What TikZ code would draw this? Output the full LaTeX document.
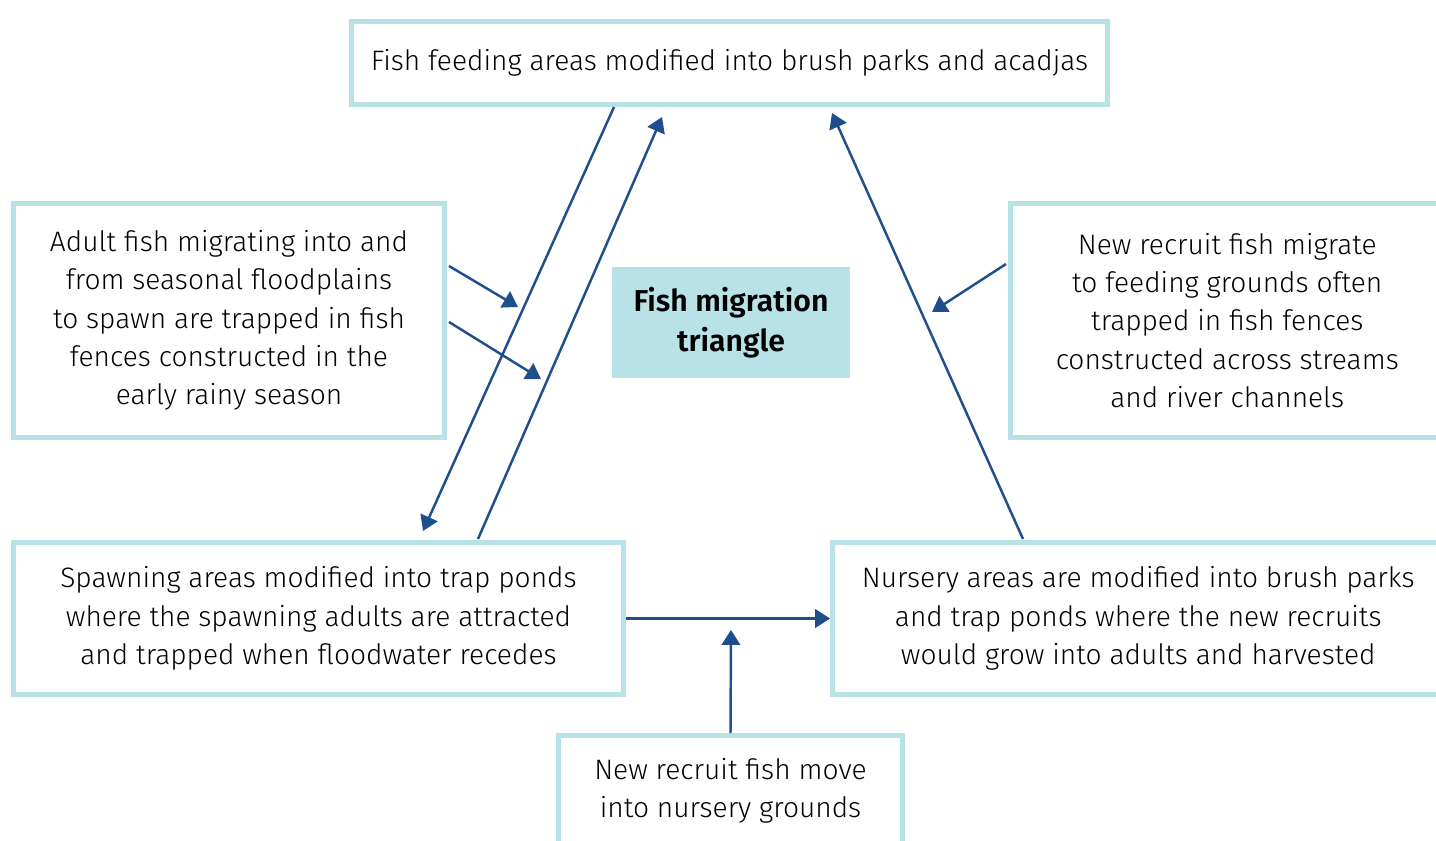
\documentclass[tikz,border=0pt]{standalone}
\usepackage{fontspec}
\setmainfont{Fira Sans Light}[BoldFont=Fira Sans SemiBold]
\usetikzlibrary{arrows.meta}
\definecolor{boxcyan}{HTML}{B9E2E6}
\definecolor{arrowblue}{HTML}{1F4E8C}
\tikzset{
  box/.style={draw=boxcyan, line width=2.8pt, inner sep=0pt, align=center,
    font=\fontsize{16}{21.8}\selectfont},
  arr/.style={draw=arrowblue, line width=1.4pt, -{Triangle[length=8.5pt,width=10.5pt]}},
}
\begin{document}
\begin{tikzpicture}[x=0.02cm, y=-0.02cm]
    \useasboundingbox (0,0) rectangle (1436,841);
    % boxes
    \node[box, minimum width=15.12cm, minimum height=1.66cm] (feeding) at (729.5,63)
      {Fish feeding areas modified into brush parks and acadjas};
    \node[box, minimum width=8.62cm, minimum height=4.68cm] (adults) at (229,320.5)
      {Adult fish migrating into and\\ from seasonal floodplains\\ to spawn are trapped in fish\\
       fences constructed in the\\ early rainy season};
    \node[box, minimum width=8.67cm, minimum height=4.68cm] (newfeed) at (1227.25,320.5)
      {New recruit fish migrate\\ to feeding grounds often\\ trapped in fish fences\\
       constructed across streams\\ and river channels};
    \node[fill=boxcyan, inner sep=0pt, align=center, minimum width=4.76cm, minimum height=2.22cm,
      font=\fontsize{17.2}{22.5}\selectfont\bfseries] (triangle) at (731,322.5)
      {Fish migration\\ triangle};
    \node[box, minimum width=12.2cm, minimum height=3.04cm] (spawn) at (318.5,618.5)
      {Spawning areas modified into trap ponds\\ where the spawning adults are attracted\\
       and trapped when floodwater recedes};
    \node[box, minimum width=12.23cm, minimum height=3.04cm] (nursery) at (1138.25,618.5)
      {Nursery areas are modified into brush parks\\ and trap ponds where the new recruits\\
       would grow into adults and harvested};
    \node[box, minimum width=6.88cm, minimum height=2.22cm] (newnursery) at (730.5,791)
      {New recruit fish move\\ into nursery grounds};
    % free ends
    \coordinate (f1) at (614,107);
    \coordinate (s1) at (423,531);
    \coordinate (s2) at (478,539);
    \coordinate (f2) at (662,117);
    \coordinate (n1) at (1023,539);
    \coordinate (f3) at (832,113);
    \coordinate (a1) at (449,266);
    \coordinate (a1e) at (518,307);
    \coordinate (a2) at (449,322);
    \coordinate (a2e) at (541,379);
    \coordinate (r1) at (1006,264);
    \coordinate (r1e) at (932,312);
    \coordinate (n2) at (731,630);
    % triangle sides
    \draw[arr] (f1) -- (s1);
    \draw[arr] (s2) -- (f2);
    \draw[arr] (n1) -- (f3);
    \draw[arr] (spawn.east) -- (nursery.west);
    % side arrows
    \draw[arr] (a1) -- (a1e);
    \draw[arr] (a2) -- (a2e);
    \draw[arr] (r1) -- (r1e);
    \draw[arr] (newnursery.north) -- (n2);
\end{tikzpicture}
\end{document}
